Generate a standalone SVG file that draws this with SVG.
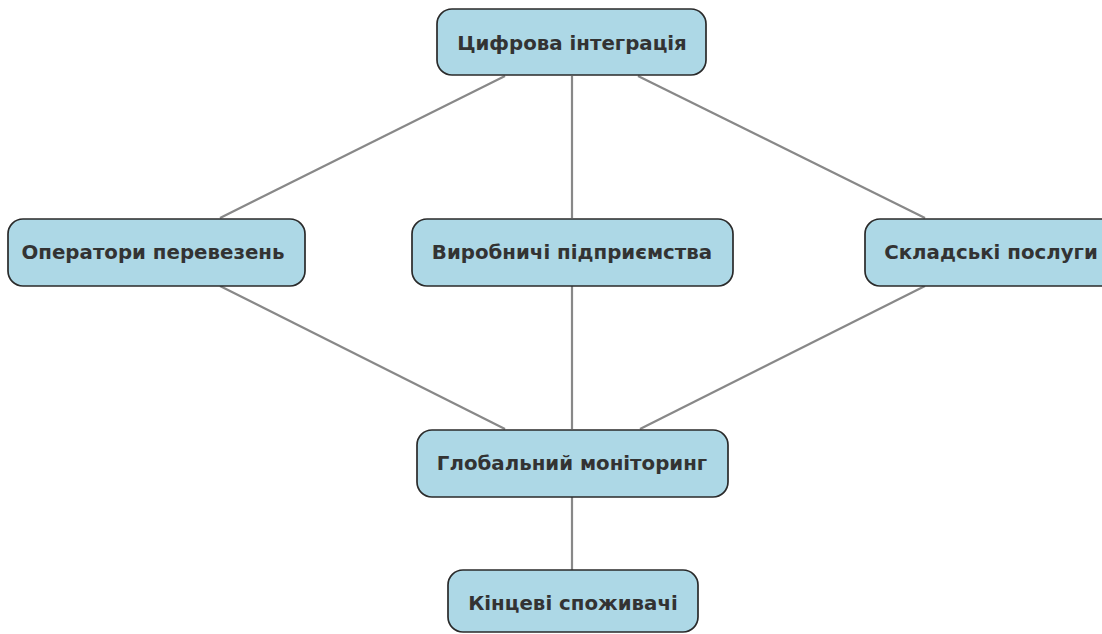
<svg xmlns="http://www.w3.org/2000/svg" width="1102" height="634" viewBox="0 0 1102 634">
<style>
.n{fill:#add8e6;stroke:#2a2a2a;stroke-width:1.7}
.t{font-family:"DejaVu Sans",sans-serif;font-weight:bold;font-size:19.8px;fill:#333;text-anchor:middle;dominant-baseline:central}
.e{stroke:#888;stroke-width:2.2;fill:none}
</style>
<rect width="1102" height="634" fill="#fff"/>
<g id="connectors">
<line class="e" x1="505" y1="76" x2="220" y2="218"/>
<line class="e" x1="572" y1="76" x2="572" y2="218"/>
<line class="e" x1="638" y1="76" x2="925" y2="218"/>
<line class="e" x1="220" y1="286" x2="505" y2="429"/>
<line class="e" x1="572" y1="286" x2="572" y2="429"/>
<line class="e" x1="925" y1="286" x2="640" y2="429"/>
<line class="e" x1="572" y1="497" x2="572" y2="570"/>
</g>
<g id="n1"><rect class="n" x="437" y="9" width="269" height="66" rx="15"/><text class="t" x="572" y="43">Цифрова інтеграція</text></g>
<g id="n2"><rect class="n" x="8" y="219" width="297" height="67" rx="15"/><text class="t" x="153" y="252">Оператори перевезень</text></g>
<g id="n3"><rect class="n" x="412" y="219" width="321" height="67" rx="15"/><text class="t" x="572" y="252">Виробничі підприємства</text></g>
<g id="n4"><rect class="n" x="865" y="219" width="252" height="67" rx="15"/><text class="t" x="991" y="252">Складські послуги</text></g>
<g id="n5"><rect class="n" x="417" y="430" width="311" height="67" rx="15"/><text class="t" x="572" y="463">Глобальний моніторинг</text></g>
<g id="n6"><rect class="n" x="448" y="570" width="250" height="62" rx="15"/><text class="t" x="573" y="603">Кінцеві споживачі</text></g>
</svg>
